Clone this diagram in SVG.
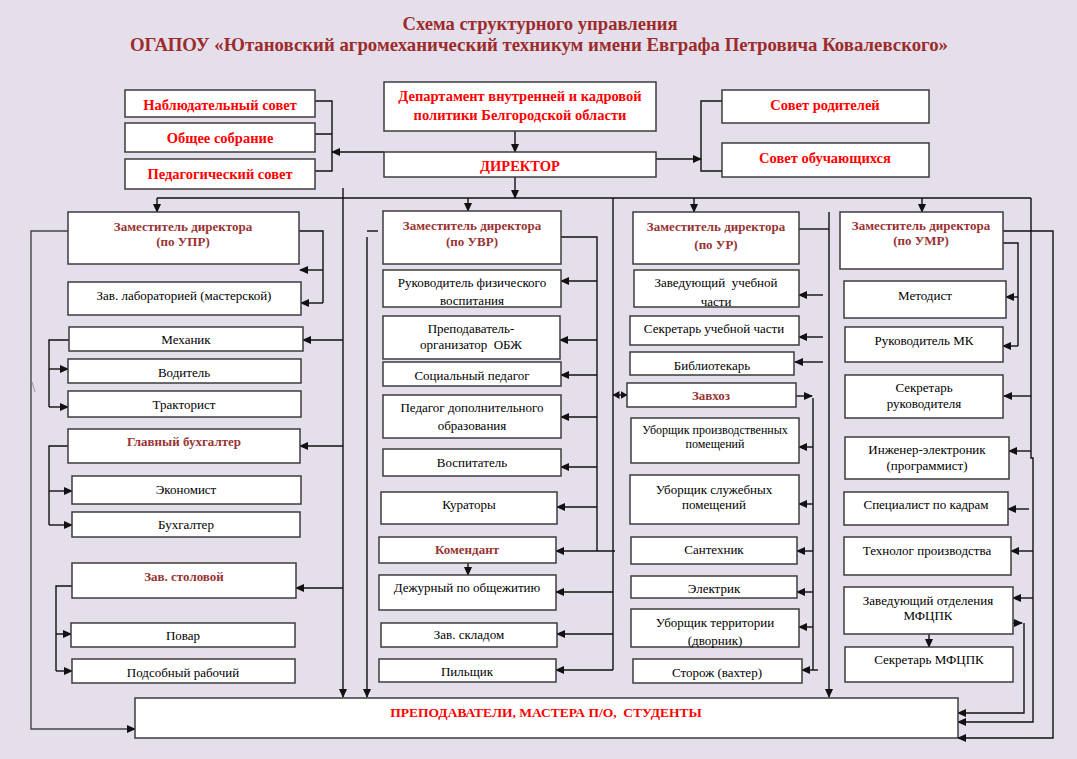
<svg xmlns="http://www.w3.org/2000/svg" width="1077" height="759" viewBox="0 0 1077 759">
<style>
.b{fill:#fff;stroke:#3c3c3c;stroke-width:1.5}
.t{font-family:"Liberation Serif","Times New Roman",serif;font-size:13px;text-anchor:middle;fill:#000}
.r{fill:#ff0000;font-weight:bold;font-size:14.5px}
.d{fill:#993333;font-weight:bold;font-size:13px}
.s{font-size:12px}
.ttl{font-family:"Liberation Serif","Times New Roman",serif;font-weight:bold;font-size:19px;fill:#9c2b2b;text-anchor:middle}
.c path,.c line{fill:none;stroke:#111;stroke-width:1.4}
.a{marker-end:url(#ah)}
</style>
<defs>
<marker id="ah" markerUnits="userSpaceOnUse" markerWidth="9" markerHeight="8" refX="8" refY="4" orient="auto"><path d="M0,0 L9,4 L0,8 z" fill="#111"/></marker>
<marker id="ah2" markerUnits="userSpaceOnUse" markerWidth="7" markerHeight="8" refX="6.5" refY="4" orient="auto-start-reverse"><path d="M0,0 L7,4 L0,8 z" fill="#111"/></marker>
</defs>
<rect width="1077" height="759" fill="#e4dfeb"/>
<g id="title">
<text class="ttl" x="540" y="30" textLength="275" lengthAdjust="spacingAndGlyphs">Схема структурного управления</text>
<text class="ttl" x="539" y="51" textLength="818" lengthAdjust="spacingAndGlyphs">ОГАПОУ «Ютановский агромеханический техникум имени Евграфа Петровича Ковалевского»</text>
</g>
<g id="connectors" class="c">
<path d="M157,198 H1031"/>
<path class="a" d="M157,198 V212"/>
<path class="a" d="M468,198 V211"/>
<path class="a" d="M694,198 V212"/>
<path class="a" d="M922,198 V212"/>
<path class="a" d="M515,131 V152"/>
<path class="a" d="M515,177 V198"/>
<path class="a" d="M384,152 H332"/>
<path d="M314,101 H332 V171 H314 M314,134 H332"/>
<path class="a" d="M656,159 H701"/>
<path d="M722,101 H701 V171 H722"/>
<path class="a" d="M343,188 V697"/>
<path class="a" d="M343,340 H303"/>
<path class="a" d="M343,446 H300"/>
<path class="a" d="M343,588 H296"/>
<path class="a" d="M68,231 H31 V729 H135" style="stroke:#444"/>
<path d="M299,231 H323 V303"/>
<path class="a" d="M323,270 H300"/>
<path class="a" d="M323,303 H301"/>
<path d="M69,340 H49 V407"/>
<path class="a" d="M49,369 H68"/>
<path class="a" d="M49,407 H68"/>
<path d="M68,446 H49 V525"/>
<path class="a" d="M49,491 H72"/>
<path class="a" d="M49,525 H72"/>
<path d="M72,586 H56 V671"/>
<path class="a" d="M56,634 H71"/>
<path class="a" d="M56,671 H72"/>
<path class="a" d="M367,237 V697"/>
<path d="M367,231 H378"/>
<path d="M561,237 H597 V551"/>
<path class="a" d="M597,281 H561"/>
<path class="a" d="M597,340 H560"/>
<path class="a" d="M597,375 H561"/>
<path class="a" d="M597,417 H561"/>
<path class="a" d="M597,467 H561"/>
<path class="a" d="M597,507 H557"/>
<path d="M613,198 V670"/>
<path class="a" d="M615,551 H556"/>
<path class="a" d="M613,592 H556"/>
<path class="a" d="M613,634 H557"/>
<path class="a" d="M613,670 H556"/>
<path class="a" d="M468,563 V575"/>
<path d="M613,395 H627" style="marker-start:url(#ah2);marker-end:url(#ah2)"/>
<path d="M799,229 H829"/>
<path class="a" d="M829,212 V697"/>
<path class="a" d="M823,295 H799"/>
<path class="a" d="M823,337 H799"/>
<path class="a" d="M823,362 H795"/>
<path class="a" d="M796,396 H812"/>
<path d="M813,398 V670"/>
<path class="a" d="M813,447 H799"/>
<path class="a" d="M813,504 H799"/>
<path class="a" d="M813,551 H797"/>
<path class="a" d="M813,592 H797"/>
<path class="a" d="M813,627 H799"/>
<path class="a" d="M818,670 H802"/>
<path class="a" d="M1003,231 H1053 V738 H958"/>
<path d="M1003,243 H1018 V346"/>
<path class="a" d="M1018,297 H1006"/>
<path class="a" d="M1018,346 H1003"/>
<path class="a" d="M1031,198 V458 H1033 V722 H958"/>
<path class="a" d="M1031,396 H1004"/>
<path class="a" d="M1031,451 H1009"/>
<path class="a" d="M1029,509 H1008"/>
<path class="a" d="M1033,551 H1011"/>
<path class="a" d="M1033,598 H1013"/>
<path class="a" d="M1013,623 H1022"/>
<path class="a" d="M1024,623 V713 H958"/>
<path class="a" d="M929,634 V647"/>
<line x1="32" y1="382" x2="35" y2="392" style="stroke:#999;stroke-width:1"/>
</g>
<g id="nabl"><rect class="b" x="125" y="90" width="190" height="27"/><text class="t r" x="220" y="110">Наблюдательный совет</text></g>
<g id="obsh"><rect class="b" x="125" y="123" width="190" height="29"/><text class="t r" x="220" y="143">Общее собрание</text></g>
<g id="ped"><rect class="b" x="125" y="159" width="190" height="30"/><text class="t r" x="220" y="179">Педагогический совет</text></g>
<g id="dep"><rect class="b" x="384" y="82" width="272" height="49"/><text class="t r" x="520" y="101">Департамент внутренней и кадровой</text><text class="t r" x="520" y="120">политики Белгородской области</text></g>
<g id="dir"><rect class="b" x="384" y="152" width="272" height="25"/><text class="t r" x="520" y="171">ДИРЕКТОР</text></g>
<g id="sovrod"><rect class="b" x="722" y="90" width="207" height="33"/><text class="t r" x="825" y="110">Совет родителей</text></g>
<g id="sovob"><rect class="b" x="722" y="143" width="207" height="34"/><text class="t r" x="825" y="163">Совет обучающихся</text></g>

<g id="upr"><rect class="b" x="68" y="212" width="231" height="52"/><text class="t d" x="183" y="231">Заместитель директора</text><text class="t d" x="183" y="246">(по УПР)</text></g>
<g id="zavlab"><rect class="b" x="68" y="282" width="233" height="33"/><text class="t" x="184" y="300">Зав. лабораторией (мастерской)</text></g>
<g id="mech"><rect class="b" x="69" y="327" width="234" height="24"/><text class="t" x="186" y="344">Механик</text></g>
<g id="vod"><rect class="b" x="68" y="359" width="233" height="24"/><text class="t" x="184" y="377">Водитель</text></g>
<g id="trak"><rect class="b" x="68" y="391" width="233" height="26"/><text class="t" x="184" y="409">Тракторист</text></g>
<g id="glbuh"><rect class="b" x="68" y="429" width="232" height="34"/><text class="t d" x="184" y="446">Главный бухгалтер</text></g>
<g id="econ"><rect class="b" x="72" y="476" width="229" height="28"/><text class="t" x="186" y="494">Экономист</text></g>
<g id="buh"><rect class="b" x="72" y="512" width="228" height="25"/><text class="t" x="186" y="529">Бухгалтер</text></g>
<g id="stol"><rect class="b" x="72" y="563" width="224" height="35"/><text class="t d" x="184" y="581">Зав. столовой</text></g>
<g id="povar"><rect class="b" x="71" y="623" width="224" height="24"/><text class="t" x="183" y="640">Повар</text></g>
<g id="podsob"><rect class="b" x="72" y="659" width="223" height="24"/><text class="t" x="183" y="677">Подсобный рабочий</text></g>

<g id="uvr"><rect class="b" x="383" y="211" width="178" height="53"/><text class="t d" x="472" y="230">Заместитель директора</text><text class="t d" x="472" y="246">(по УВР)</text></g>
<g id="fizvos"><rect class="b" x="383" y="270" width="178" height="37"/><text class="t" x="472" y="287">Руководитель физического</text><text class="t" x="472" y="305">воспитания</text></g>
<g id="obzh"><rect class="b" x="383" y="316" width="177" height="43"/><text class="t" x="471" y="333">Преподаватель-</text><text class="t" x="471" y="349" xml:space="preserve">организатор  ОБЖ</text></g>
<g id="socped"><rect class="b" x="383" y="362" width="178" height="24"/><text class="t" x="472" y="380">Социальный педагог</text></g>
<g id="peddop"><rect class="b" x="383" y="395" width="178" height="43"/><text class="t" x="472" y="412">Педагог дополнительного</text><text class="t" x="472" y="430">образования</text></g>
<g id="vosp"><rect class="b" x="383" y="449" width="178" height="27"/><text class="t" x="472" y="467">Воспитатель</text></g>
<g id="kur"><rect class="b" x="381" y="492" width="176" height="32"/><text class="t" x="469" y="509">Кураторы</text></g>
<g id="kom"><rect class="b" x="379" y="537" width="177" height="26"/><text class="t d" x="467" y="554">Комендант</text></g>
<g id="dezh"><rect class="b" x="379" y="575" width="177" height="35"/><text class="t" x="467" y="592">Дежурный по общежитию</text></g>
<g id="sklad"><rect class="b" x="381" y="623" width="176" height="24"/><text class="t" x="469" y="639">Зав. складом</text></g>
<g id="pil"><rect class="b" x="379" y="659" width="177" height="23"/><text class="t" x="467" y="676">Пильщик</text></g>

<g id="ur"><rect class="b" x="633" y="212" width="166" height="52"/><text class="t d" x="716" y="231">Заместитель директора</text><text class="t d" x="716" y="249">(по УР)</text></g>
<g id="zavuch"><rect class="b" x="634" y="270" width="165" height="37"/><text class="t" x="716" y="287" xml:space="preserve">Заведующий  учебной</text><text class="t" x="716" y="306">части</text></g>
<g id="sekruch"><rect class="b" x="630" y="316" width="169" height="29"/><text class="t" x="714" y="333">Секретарь учебной части</text></g>
<g id="bibl"><rect class="b" x="630" y="352" width="164" height="23"/><text class="t" x="712" y="370">Библиотекарь</text></g>
<g id="zavhoz"><rect class="b" x="627" y="383" width="169" height="24"/><text class="t d" x="711" y="400">Завхоз</text></g>
<g id="uborpr"><rect class="b" x="631" y="418" width="168" height="45"/><text class="t s" x="715" y="434">Уборщик производственных</text><text class="t s" x="715" y="448">помещений</text></g>
<g id="uborsl"><rect class="b" x="630" y="475" width="169" height="49"/><text class="t" x="714" y="494">Уборщик служебных</text><text class="t" x="714" y="509">помещений</text></g>
<g id="santeh"><rect class="b" x="631" y="537" width="166" height="27"/><text class="t" x="714" y="554">Сантехник</text></g>
<g id="elek"><rect class="b" x="631" y="576" width="166" height="22"/><text class="t" x="714" y="593">Электрик</text></g>
<g id="ubter"><rect class="b" x="631" y="609" width="168" height="38"/><text class="t" x="715" y="627">Уборщик территории</text><text class="t" x="715" y="645">(дворник)</text></g>
<g id="storozh"><rect class="b" x="633" y="659" width="169" height="24"/><text class="t" x="717" y="677">Сторож (вахтер)</text></g>

<g id="umr"><rect class="b" x="840" y="212" width="163" height="57"/><text class="t d" x="921" y="230">Заместитель директора</text><text class="t d" x="921" y="245">(по УМР)</text></g>
<g id="metod"><rect class="b" x="844" y="281" width="162" height="37"/><text class="t" x="925" y="300">Методист</text></g>
<g id="rukmk"><rect class="b" x="845" y="327" width="158" height="35"/><text class="t" x="924" y="345">Руководитель МК</text></g>
<g id="sekruk"><rect class="b" x="845" y="375" width="158" height="43"/><text class="t" x="924" y="392">Секретарь</text><text class="t" x="924" y="408">руководителя</text></g>
<g id="inzh"><rect class="b" x="845" y="437" width="164" height="42"/><text class="t" x="927" y="454">Инженер-электроник</text><text class="t" x="927" y="470">(программист)</text></g>
<g id="speckadr"><rect class="b" x="844" y="492" width="164" height="33"/><text class="t" x="926" y="509">Специалист по кадрам</text></g>
<g id="tehnol"><rect class="b" x="844" y="537" width="167" height="38"/><text class="t" x="927" y="555">Технолог производства</text></g>
<g id="mfcpk"><rect class="b" x="844" y="587" width="169" height="47"/><text class="t" x="928" y="605">Заведующий отделения</text><text class="t" x="928" y="620">МФЦПК</text></g>
<g id="sekmf"><rect class="b" x="845" y="647" width="168" height="35"/><text class="t" x="929" y="664">Секретарь МФЦПК</text></g>

<g id="bottom"><rect class="b" x="135" y="698" width="823" height="40"/><text class="t r" x="546" y="717" style="font-size:13.5px" xml:space="preserve">ПРЕПОДАВАТЕЛИ, МАСТЕРА П/О,  СТУДЕНТЫ</text></g>
</svg>
